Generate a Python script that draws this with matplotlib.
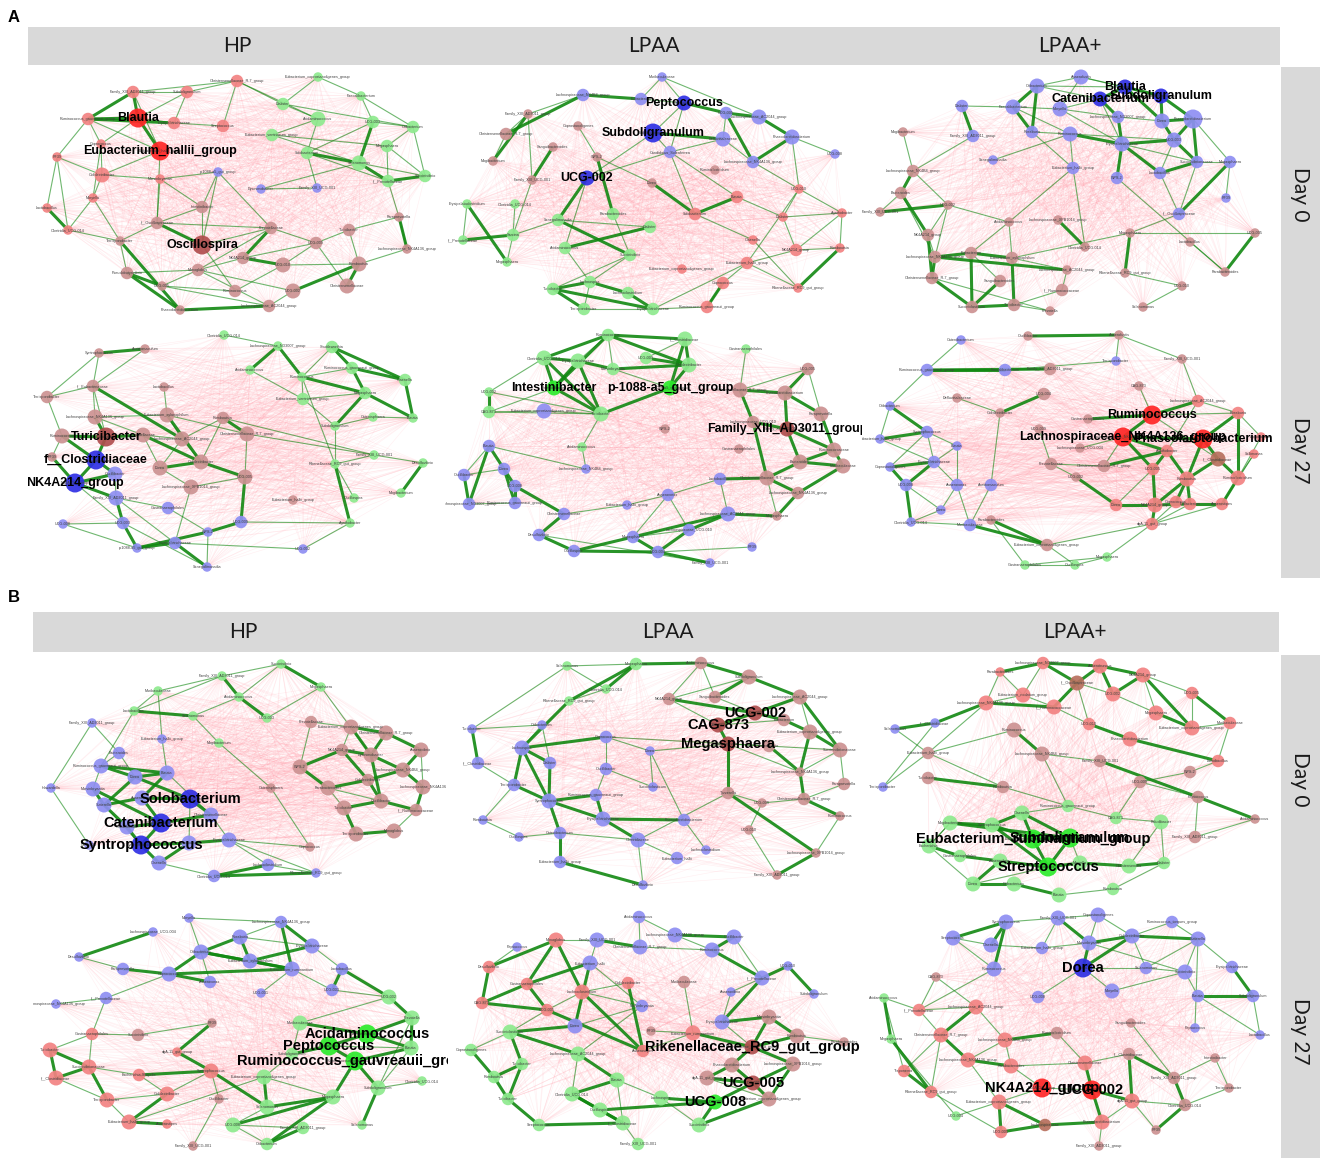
"""Co-occurrence networks (HP / LPAA / LPAA+ at Day 0 and Day 27), panels A and B.

Node layout coordinates are in the reference's pixel frame; every panel axes
uses its own pixel box as data limits so the nodes land in the same place.
Green edges = positive links (listed), pink edges = negative links between
the listed module pairs.
"""
import matplotlib
matplotlib.use("Agg")
import matplotlib.pyplot as plt
from matplotlib.collections import LineCollection

W, H = 1325, 1163

GROUPS = ["HP", "LPAA", "LPAA+"]
DAYS = ["Day 0", "Day 27"]
HEADER_X_A = [237, 654, 1070]
HEADER_X_B = [243, 668, 1075]

# lower case = plain node, upper case = hub node with bold label,
# q = darker (unlabelled) member of the red module
FILL = {"r": "#F28282", "p": "#CC9292", "g": "#8EEA8E", "b": "#8E8EF2", "q": "#B8705E",
        "R": "#FF2626", "P": "#B04E4E", "G": "#2CEB2C", "B": "#2F2FE4"}
MODULE = {"q": "r"}
DIAM = {"s": 9.5, "m": 12.5, "l": 15, "x": 19}
POS_COLOR = "#118811"
NEG_COLOR = "#FF9AA8"
STRIP = "#D9D9D9"

# ---------------- panel A ----------------
A_HP_D0 = [
    ("Christensenellaceae_R-7_group", 237, 81, "rm"), ("Family_XIII_AD3011_group", 133, 92, "rm"),
    ("Subdoligranulum", 187, 92, "rm"), ("Ruminococcus_gauvreauii_group", 88, 119, "rm"),
    ("Blautia", 138, 118, "Rx"), ("Erysipelotrichaceae", 174, 123, "rm"),
    ("Streptococcus", 223, 126, "rm"), ("Coprococcus", 101, 144, "rs"),
    ("Eubacterium_hallii_group", 160, 151, "Rx"), ("RF39", 57, 157, "rs"),
    ("Colidextribacter", 102, 175, "rl"), ("Marvinbryantia", 160, 179, "rs"),
    ("Moryella", 93, 198, "rs"), ("Lactobacillus", 47, 208, "rs"),
    ("Clostridia_UCG-014", 68, 230, "rs"), ("p-1088-a5_gut_group", 218, 172, "bs"),
    ("Dysosmobacter", 261, 189, "bs"), ("Family_XIII_UCG-001", 317, 188, "bs"),
    ("Intestinibacter", 202, 207, "pm"), ("f__Oscillospiraceae", 157, 223, "pm"),
    ("Terrisporobacter", 120, 241, "ps"), ("Oscillospira", 202, 245, "Px"),
    ("Prevotellaceae", 271, 228, "pm"), ("NK4A214_group", 243, 258, "pm"),
    ("Pseudobutyrivibrio", 127, 273, "pm"), ("Monoglobus", 198, 270, "pm"),
    ("UCG-005", 162, 286, "ps"), ("Ruminococcus", 235, 291, "pm"),
    ("UCG-010", 283, 265, "pl"), ("UCG-002", 293, 291, "pl"),
    ("UCG-009", 316, 243, "pm"), ("Turicibacter", 349, 230, "pm"),
    ("Romboutsia", 359, 264, "pl"), ("Christensenellaceae", 347, 286, "pl"),
    ("Lachnospiraceae_NK4A136_group", 407, 249, "ps"), ("Paraprevotella", 399, 217, "ps"),
    ("Phascolarctobacterium", 180, 310, "ps"), ("Lachnospiraceae_AC2044_group", 269, 306, "pm"),
    ("Eubacterium_coprostanoligenes_group", 318, 77, "gs"), ("Faecalibacterium", 361, 96, "gs"),
    ("Dialister", 283, 104, "gm"), ("Acidaminococcus", 318, 119, "gl"),
    ("UCG-003", 373, 122, "gm"), ("Oribacterium", 413, 127, "gm"),
    ("Eubacterium_ventriosum_group", 272, 135, "gm"), ("Solobacterium", 307, 153, "gm"),
    ("Megasphaera", 387, 146, "gm"), ("Selenomonas", 359, 163, "gl"),
    ("f__Prevotellaceae", 388, 181, "gm"), ("Succinivibrio", 425, 176, "gm"),
]
E_A_HP_D0 = ("0-1 0-2 1-2 1-4* 1-3* 3-4* 4-5 4-8* 3-9 3-7 4-7 2-4 2-5 5-6 0-6 3-8 7-10 9-10 9-13 "
             "9-14 10-12 12-14 13-14* 7-12 8-10 1-8 11-19 3-5* 0-40 0-41 38-39 38-40 39-42 40-41 "
             "41-44 41-45 42-43 43-46 44-47 45-47* 45-48 46-49 47-48* 47-49 42-47* 43-49 44-46 40-43 "
             "46-48 48-49* 39-43 42-45 18-19 18-21 19-21* 19-20 21-22 21-27 20-24 22-23* 22-25 23-25 "
             "23-28* 24-25 25-26 26-27 24-36* 25-29 25-37 26-37 27-28 28-32 29-32* 30-31 31-32 32-33* "
             "32-34 34-35 31-35 30-33 22-30 19-22 36-37* 29-37 23-30 28-30 20-36* 24-26* 15-18 15-11 "
             "15-22 16-17 16-47 17-45 15-21 35-48 34-35* 18-11 10-11 8-19 12-20 14-20")
N_A_HP_D0 = "rg rp gp"

A_LPAA_D0 = [
    ("Muribaculaceae", 662, 77, "bs"), ("Lachnospiraceae_NK4B4_group", 583, 95, "bm"),
    ("Eubacterium", 641, 99, "bm"), ("Peptococcus", 684, 103, "Bl"),
    ("UCG-005", 726, 113, "bm"), ("Lachnospiraceae_AC2044_group", 759, 117, "bl"),
    ("Subdoligranulum", 653, 133, "Bx"), ("Defluviitaleaceae", 723, 139, "bl"),
    ("Phascolarctobacterium", 792, 137, "bl"), ("UCG-008", 835, 154, "bs"),
    ("Candidatus_Soleaferrea", 670, 152, "bm"), ("Lachnospiraceae_NK4A136_group", 753, 162, "bm"),
    ("UCG-002", 587, 178, "Bl"), ("Family_XIII_AD3011_group", 528, 114, "ps"),
    ("Coprostanoligenes", 578, 126, "ps"), ("Christensenellaceae_R-7_group", 506, 134, "pm"),
    ("Sanguibacteroides", 553, 147, "ps"), ("WPS-2", 597, 157, "ps"),
    ("Mogibacterium", 493, 161, "ps"), ("Family_XIII_UCG-001", 532, 180, "ps"),
    ("Dorea", 652, 183, "ps"), ("Ruminiclostridium", 715, 170, "ps"),
    ("UCG-010", 799, 189, "rs"), ("Blautia", 737, 197, "rm"),
    ("Solobacterium", 695, 214, "rm"), ("Dialister", 783, 217, "rs"),
    ("Agathobacter", 842, 213, "rs"), ("Olsenella", 753, 240, "rs"),
    ("NK4A214_group", 796, 250, "rm"), ("Romboutsia", 840, 248, "rs"),
    ("Eubacterium_hallii_group", 747, 263, "rm"), ("Eubacterium_coprostanoligenes_group", 682, 269, "rs"),
    ("Coprococcus", 723, 283, "rm"), ("Rikenellaceae_RC9_gut_group", 798, 288, "rs"),
    ("Ruminococcus_gauvreauii_group", 707, 307, "rm"), ("Erysipelatoclostridium", 467, 204, "gs"),
    ("Clostridia_UCG-014", 515, 204, "gs"), ("f__Prevotellaceae", 463, 240, "gs"),
    ("Sarcina", 513, 235, "gm"), ("Megasphaera", 507, 262, "gs"),
    ("Senegalimassilia", 558, 220, "gm"), ("Parabacteroides", 613, 214, "gm"),
    ("Dialister", 650, 227, "gm"), ("Acidaminococcus", 565, 248, "gm"),
    ("Succinivibrio", 630, 255, "gm"), ("Turicibacter", 553, 289, "gm"),
    ("Lachnospira", 590, 282, "gm"), ("Lachnoclostridium", 628, 293, "gm"),
    ("Terrisporobacter", 584, 309, "gm"), ("Erysipelotrichaceae", 653, 309, "gm"),
]
E_A_LPAA_D0 = ("0-3 0-2 1-2* 2-3 3-4* 3-6 4-5* 4-7 4-11* 5-8* 8-9 8-11* 7-10 6-7* 6-10 10-12 10-24 "
               "10-23 8-22 11-22 0-5 1-15* 1-13 7-11 13-15 13-18* 14-17 16-19* 15-18 17-20 17-41* "
               "19-38 12-43 20-24* 13-19 23-24* 22-25 24-27 25-28 26-29 28-29 27-33 28-30 29-33* "
               "30-33 30-32 32-34* 26-28 22-30 25-26 23-25 35-39* 35-37 37-38* 36-38 38-40 40-42 "
               "42-43* 41-44 45-46* 45-48* 46-47* 47-49* 48-49 45-49* 46-48 44-45 44-46 43-46 49-34 "
               "38-39 6-12 3-10 12-40* 40-44* 22-26 34-32 49-30")
N_A_LPAA_D0 = "bg br pr gr pg"

A_LPAAP_D0 = [
    ("Oribacterium", 1037, 86, "bl"), ("Anaerofustis", 1081, 77, "bl"),
    ("Dialister", 962, 106, "bm"), ("Faecalibacterium", 1013, 107, "bl"),
    ("Moryella", 1060, 109, "bl"), ("Blautia", 1125, 87, "Bl"),
    ("Catenibacterium", 1100, 99, "Bl"), ("Subdoligranulum", 1161, 96, "Bl"),
    ("Lachnospiraceae_ND3007_group", 1118, 117, "bm"), ("Dorea", 1162, 121, "bl"),
    ("Phascolarctobacterium", 1193, 119, "bx"), ("Roseburia", 1032, 132, "bm"),
    ("Ruminococcus", 1070, 134, "bl"), ("Erysipelotrichaceae", 1122, 144, "bl"),
    ("UCG-003", 1174, 140, "bl"), ("Family_XIII_AD3011_group", 973, 136, "bm"),
    ("Senegalimassilia", 993, 160, "bs"), ("Eubacterium_hallii_group", 1073, 168, "bm"),
    ("WPS-2", 1117, 178, "bm"), ("Succinivibrionaceae", 1197, 162, "bm"),
    ("Lactobacillus", 1160, 173, "bm"), ("Megasphaera", 1230, 162, "bm"),
    ("RF39", 1226, 198, "bs"), ("f__Oscillospiraceae", 1179, 214, "bm"),
    ("Mogibacterium", 903, 132, "ps"), ("Lachnospiraceae_NK4B4_group", 913, 171, "pm"),
    ("Bacteroides", 901, 193, "pm"), ("UCG-002", 948, 205, "ps"),
    ("Family_XIII_UCG-001", 880, 212, "ps"), ("Acidaminococcus", 1009, 222, "ps"),
    ("Lachnospiraceae_XPB1014_group", 1058, 220, "ps"), ("Clostridia_UCG-014", 1085, 247, "ps"),
    ("NK4A214_group", 928, 235, "pm"), ("Lachnospiraceae_NK4A136_group", 935, 257, "pm"),
    ("Eubacterium", 971, 253, "pm"), ("Eubacterium_xylanophilum", 1012, 258, "pm"),
    ("Christensenellaceae_R-7_group", 932, 278, "pm"), ("Sanguibacteroides", 1000, 281, "pm"),
    ("Lachnospiraceae_AC2044_group", 1067, 270, "ps"), ("f__Ruminococcaceae", 1062, 290, "pm"),
    ("Succiniclasticum", 972, 307, "pm"), ("Turicibacter", 1014, 305, "pm"),
    ("Prevotella", 1050, 311, "ps"), ("Megasphaera", 1130, 233, "ps"),
    ("Lactobacillus", 1190, 242, "ps"), ("UCG-005", 1255, 233, "ps"),
    ("Rikenellaceae_RC9_gut_group", 1125, 273, "ps"), ("Parabacteroides", 1225, 272, "ps"),
    ("UCG-010", 1182, 286, "ps"), ("Selenomonas", 1143, 307, "ps"),
]
E_A_LPAAP_D0 = ("0-1 0-3* 0-5 0-6 1-5 1-7 1-4 2-3 2-15* 3-4 3-11* 4-6 4-8 5-6* 5-7* 5-9* 6-8* 6-13 "
                "7-9* 7-10* 8-9 8-13* 9-10* 9-14* 10-14* 10-19* 11-12 11-17 12-13* 12-17 13-14* 13-18* "
                "13-19 14-19* 14-20 19-20* 19-21 21-22 21-23* 20-23 16-12 15-25 17-31 18-47 0-11* 12-14 "
                "13-20* 3-12 4-13 10-21 19-23 17-29 23-43 24-25 25-26* 25-27 26-28 26-32* 27-28* 27-32 "
                "27-33 29-34 29-35 30-31* 32-33 32-36* 33-34* 33-36* 34-35* 34-37 34-40* 35-41* 36-40* "
                "37-40* 38-39 39-41 40-41* 41-42 36-42 35-38 43-46* 43-45 44-47 45-47* 46-48 48-49 "
                "43-35 33-38* 27-29 26-33")
N_A_LPAAP_D0 = "bp"

A_HP_D27 = [
    ("Syntrophococcus", 99, 353, "ps"), ("Acetitomaculum", 145, 349, "ps"),
    ("Terrisporobacter", 47, 397, "pm"), ("f__Eubacteriaceae", 93, 386, "pm"),
    ("Lactobacillus", 164, 387, "ps"), ("Lachnospiraceae_NK4A136_group", 95, 417, "pl"),
    ("Eubacterium_xylanophilum", 167, 415, "pl"), ("Romboutsia", 223, 418, "pm"),
    ("Ruminococcus", 62, 436, "pl"), ("Turicibacter", 106, 437, "Px"),
    ("Prevotellaceae", 143, 435, "pl"), ("Lachnospiraceae_AC2044_group", 182, 439, "pl"),
    ("Christensenellaceae_R-7_group", 247, 434, "pl"), ("RF39", 52, 457, "ps"),
    ("Colidextribacter", 201, 462, "pl"), ("Dorea", 160, 468, "pl"),
    ("UCG-005", 245, 477, "pl"), ("Lachnospiraceae_XPB1014_group", 191, 487, "pl"),
    ("Eubacterium_hallii_group", 293, 500, "ps"), ("f__Clostridiaceae", 96, 460, "Bx"),
    ("NK4A214_group", 75, 483, "Bx"), ("Oscillibacter", 115, 474, "bl"),
    ("Family_XIII_AD3011_group", 116, 498, "bl"), ("Gastranaerophilales", 168, 508, "bm"),
    ("UCG-008", 63, 524, "bs"), ("UCG-003", 123, 523, "bm"),
    ("UCG-009", 241, 522, "bm"), ("WPS-2", 208, 532, "bs"),
    ("p-1088-a5_gut_group", 137, 548, "bs"), ("Erysipelotrichaceae", 175, 543, "bm"),
    ("Senegalimassilia", 207, 567, "bs"), ("UCG-002", 303, 549, "bs"),
    ("Clostridia_UCG-014", 224, 335, "gs"), ("Lachnospiraceae_ND3007_group", 278, 346, "gs"),
    ("Shuttleworthia", 332, 347, "gm"), ("Acidaminococcus", 250, 370, "gs"),
    ("Ruminococcus", 302, 377, "gs"), ("Ruminococcus_gauvreauii_group", 352, 368, "gm"),
    ("Olsenella", 405, 380, "gm"), ("Eubacterium_ventriosum_group", 303, 399, "gm"),
    ("Megasphaera", 365, 393, "gm"), ("Catenisphaera", 373, 417, "gs"),
    ("Blautia", 413, 418, "gs"), ("Subdoligranulum", 335, 426, "gs"),
    ("Family_XIII_UCG-001", 374, 455, "gs"), ("Rikenellaceae_RC9_gut_group", 335, 464, "gs"),
    ("Desulfovibrio", 423, 463, "gs"), ("Mogibacterium", 401, 493, "gs"),
    ("Oscillospira", 354, 498, "gs"), ("Agathobacter", 350, 523, "gs"),
]
E_A_HP_D27 = ("0-1* 0-2 0-3 1-3 2-3 2-8 3-5 3-9 3-11* 4-6 5-9* 5-10 5-6 6-11 6-12 7-11 7-12* 7-14 "
              "8-9* 8-13 9-10* 10-14* 10-15 11-14 12-16 14-16* 15-17 16-26* 17-29 14-15* 6-14* 11-15 "
              "17-16 10-11 8-19* 9-19* 19-20* 19-21* 20-21* 20-22* 21-22 22-25* 22-23 23-27 24-25 "
              "24-28 25-28* 27-28* 28-29* 29-30* 27-30 29-31 26-27* 25-30 20-25 13-20* 22-29 32-33 "
              "33-35* 33-36* 34-36 34-37* 34-38* 36-37 37-40* 37-38* 38-42* 36-40* 39-40 39-36 "
              "40-42* 41-42 39-43 40-43* 41-43 44-45 45-48 46-47* 46-44 45-49* 43-45 35-39 45-36 "
              "7-44 12-44 49-26 31-49")
N_A_HP_D27 = "pg bg"

A_LPAA_D27 = [
    ("Ruminococcus", 608, 335, "gm"), ("f__Clostridiaceae", 685, 339, "gl"),
    ("Gastranaerophilales", 746, 349, "gs"), ("Clostridia_UCG-014", 544, 358, "gl"),
    ("Erysipelotrichaceae", 578, 361, "gl"), ("UCG-003", 646, 358, "gm"),
    ("Marvinbryantia", 613, 369, "gm"), ("Colidextribacter", 689, 365, "gl"),
    ("Intestinibacter", 554, 388, "Gl"), ("p-1088-a5_gut_group", 670, 388, "Gl"),
    ("UCG-002", 489, 392, "gs"), ("CAG-873", 489, 412, "gm"),
    ("Turicibacter", 601, 414, "gl"), ("Acidaminococcus", 582, 447, "gs"),
    ("Eubacterium_coprostanoligenes_group", 544, 411, "bl"), ("Blautia", 489, 446, "bm"),
    ("Dorea", 504, 469, "bm"), ("Oscillibacter", 464, 475, "bm"),
    ("UCG-008", 515, 486, "bm"), ("Lachnospiraceae_ND3007_group", 469, 504, "bm"),
    ("Ruminococcus_gauvreauii_group", 515, 503, "bm"), ("Lachnospiraceae_NK4B4_group", 586, 469, "bs"),
    ("Christensenellaceae", 564, 514, "bm"), ("Eubacterium_hallii_group", 627, 505, "bs"),
    ("Anaerovorax", 668, 495, "bm"), ("Lachnospiraceae_AC2044_group", 728, 514, "bl"),
    ("Lachnospiraceae_UCG-010", 689, 530, "bm"), ("Megasphaera", 633, 537, "bm"),
    ("Desulfovibrio", 539, 535, "bm"), ("Oscillospira", 574, 551, "bm"),
    ("UCG-004", 658, 552, "bm"), ("RF39", 752, 547, "bs"),
    ("Family_XIII_UCG-001", 710, 563, "bs"), ("Lactobacillus", 720, 479, "bm"),
    ("Christensenellaceae_R-7_group", 740, 390, "pl"), ("Phascolarctobacterium", 785, 393, "pl"),
    ("UCG-005", 808, 369, "pm"), ("Paraprevotella", 821, 414, "pl"),
    ("Lachnospiraceae_UCG-010", 753, 422, "pm"), ("Family_XIII_AD3011_group", 787, 429, "Pl"),
    ("Ruminococcaceae", 834, 450, "pl"), ("Bacteroides", 800, 462, "pl"),
    ("Muribaculaceae", 843, 466, "pl"), ("Christensenellaceae_R-7_group", 767, 478, "pl"),
    ("Lachnospiraceae_NK4A136_group", 798, 493, "pm"), ("Megasphaera", 777, 516, "ps"),
    ("Gastranaerophilales", 739, 449, "ps"), ("WPS-2", 665, 429, "ps"),
]
E_A_LPAA_D27 = ("0-1* 0-3* 0-4 0-7* 0-8* 0-6 1-5 1-7* 1-9* 3-4* 3-8* 3-10 3-12* 4-8* 4-12* 5-7* "
                "6-7* 6-9 7-9* 8-12* 9-12* 10-11* 10-12 11-14 11-12 12-13 2-34 4-6* 8-11 15-16* "
                "15-17 15-19* 16-17 16-18* 16-20* 17-19* 18-20* 19-20 18-22* 14-12 21-15 22-23 "
                "22-28* 23-24 24-27 24-26 25-26* 25-27* 26-27 27-29* 28-29* 29-30* 30-32* 30-31 "
                "26-30* 24-33 33-25 27-30* 32-28 34-35* 35-36* 35-37* 34-38* 37-40* 38-39* 39-40* "
                "39-41* 40-42* 41-42* 41-43* 43-44* 42-44* 44-45* 43-45 38-43* 35-39* 36-37 40-41* "
                "33-43* 45-25* 34-36 13-21")
N_A_LPAA_D27 = "gb gp bp"

A_LPAAP_D27 = [
    ("Catenibacterium", 961, 340, "bs"), ("Ruminococcus_gauvreauii_group", 927, 370, "bm"),
    ("Faecalibacterium", 1005, 370, "bm"), ("Terrisporobacter", 1116, 361, "bs"),
    ("Oribacterium", 890, 406, "bs"), ("Syntrophococcus", 927, 432, "bm"),
    ("Eubacterium_hallii_group", 880, 439, "bs"), ("Erysipelotrichaceae", 934, 462, "bm"),
    ("Coprostanoligenes", 890, 467, "bs"), ("Blautia", 957, 446, "bs"),
    ("UCG-008", 906, 485, "bm"), ("Anaerovorax", 957, 485, "bm"),
    ("Acetitomaculum", 991, 485, "bm"), ("Dorea", 941, 510, "bs"),
    ("Clostridia_UCG-014", 911, 522, "bs"), ("Muribaculaceae", 970, 525, "bm"),
    ("Oscillibacter", 1028, 336, "ps"), ("Anaerofustis", 1119, 335, "ps"),
    ("Family_XIII_UCG-001", 1182, 359, "ps"), ("Family_XIII_AD3011_group", 1050, 369, "pm"),
    ("UCG-004", 1044, 394, "pm"), ("Defluviitaleaceae", 957, 398, "ps"),
    ("Colidextribacter", 1000, 413, "ps"), ("UCG-009", 1039, 429, "ps"),
    ("CAG-873", 1139, 386, "ps"), ("Gastranaerophilales", 1088, 419, "ps"),
    ("Prevotellaceae", 1051, 464, "pm"), ("Christensenellaceae_R-7_group", 1104, 466, "pm"),
    ("UCG-002", 1076, 477, "ps"), ("Parabacteroides", 991, 520, "ps"),
    ("Eubacterium_coprostanoligenes_group", 1047, 545, "pm"), ("Lachnospiraceae_UCG-004", 1080, 448, "ps"),
    ("Ruminococcus", 1152, 415, "Rx"), ("Lachnospiraceae_NK4A136_group", 1123, 437, "Rx"),
    ("Phascolarctobacterium", 1203, 439, "Rx"), ("Lachnospiraceae_AC2044_group", 1198, 401, "rm"),
    ("Roseburia", 1238, 413, "rm"), ("Lactobacillus", 1261, 437, "rs"),
    ("Agathobacter", 1167, 451, "rm"), ("f__Clostridiaceae", 1218, 459, "ql"),
    ("UCG-005", 1153, 469, "rm"), ("Romboutsia", 1187, 479, "rl"),
    ("Ruminiclostridium", 1238, 478, "rl"), ("Dorea", 1116, 505, "rm"),
    ("NK4A214_group", 1155, 505, "rl"), ("Eubacterium", 1190, 504, "rm"),
    ("Anaerostipes", 1222, 504, "rm"), ("Coprococcus", 1176, 502, "rm"),
    ("dgA-11_gut_group", 1152, 524, "rm"), ("Sellimonas", 1254, 454, "rs"),
    ("Megasphaera", 1107, 557, "gs"), ("Gastranaerophilales", 1025, 565, "gs"),
    ("Oscillospira", 1075, 565, "gs"),
]
E_A_LPAAP_D27 = ("1-2* 1-4 4-5* 4-6 5-6* 5-7 6-7 7-8* 7-10* 8-10* 10-14* 7-11 11-13 11-15 13-14 "
                 "15-14 9-11 5-9 10-13 12-15 9-7 5-8 0-1 2-3 16-17* 19-1* 20-22* 21-22 23-26 28-26 "
                 "29-30* 15-30* 17-18 18-35 24-32 25-32* 26-27 27-33 32-33* 32-35* 32-36 33-34* "
                 "33-38* 34-36* 34-39* 35-36 36-37 36-42* 37-42 38-40* 38-41* 39-41* 39-42* 40-44* "
                 "41-44* 41-45* 42-46* 43-44* 44-45* 45-46* 44-48* 45-48 46-48 47-48 40-43 41-47* "
                 "42-49 34-41* 33-40* 32-39 35-38 49-46 27-38* 28-43* 30-48 50-51 50-52 51-52 50-48 "
                 "52-30 51-29 3-17 2-19 22-12 31-33")
N_A_LPAAP_D27 = "br pr bp"

# ---------------- panel B ----------------
B_HP_D0 = [
    ("Succinivibrio", 281, 664, "gs"), ("Family_XIII_AD3011_group", 222, 676, "gs"),
    ("Muribaculaceae", 158, 691, "gs"), ("Acidaminococcus", 239, 697, "gs"),
    ("Megasphaera", 321, 687, "gs"), ("Lactobacillus", 134, 711, "gs"),
    ("Selenomonas", 193, 716, "gs"), ("UCG-003", 267, 718, "gs"),
    ("Mogibacterium", 219, 743, "gs"), ("Family_XIII_AD3011_group", 92, 723, "bs"),
    ("Eubacterium_hallii_group", 162, 739, "bs"), ("Bacteroides", 119, 753, "bm"),
    ("Ruminococcus_gauvreauii_group", 101, 766, "bl"), ("Dorea", 135, 777, "bl"),
    ("Blautia", 167, 773, "bl"), ("Howardella", 51, 788, "bs"),
    ("Marvinbryantia", 93, 789, "bl"), ("Sutterella", 104, 805, "bl"),
    ("Anaerostipes", 142, 798, "bl"), ("Solobacterium", 190, 799, "Bx"),
    ("Christensenellaceae", 211, 815, "bl"), ("Catenibacterium", 161, 823, "Bx"),
    ("Oribacterium", 127, 827, "bl"), ("Syntrophococcus", 141, 845, "Bx"),
    ("Romboutsia", 189, 843, "bl"), ("Olsenella", 159, 863, "bl"),
    ("Erysipelotrichaceae", 229, 840, "bl"), ("UCG-005", 89, 845, "bs"),
    ("Clostridia_UCG-014", 214, 876, "bm"), ("Lachnoclostridium", 268, 865, "bm"),
    ("Rikenellaceae_RC9_gut_group", 316, 873, "bs"), ("Prevotellaceae", 311, 722, "pm"),
    ("Eubacterium_coprostanoligenes_group", 351, 727, "pl"), ("Christensenellaceae_R-7_group", 386, 733, "pl"),
    ("WPS-2", 300, 767, "pl"), ("NK4A214_group", 342, 750, "pm"),
    ("Dysosmobacter", 371, 755, "pl"), ("Anaerovibrio", 421, 750, "pl"),
    ("Lachnospiraceae_NK4B4_group", 403, 770, "pl"), ("Colidextribacter", 368, 780, "pm"),
    ("Parabacteroides", 328, 788, "pl"), ("Lachnospiraceae_NK4A136", 423, 787, "pl"),
    ("Catenisphaera", 271, 788, "ps"), ("Turicibacter", 344, 808, "pl"),
    ("Oscillibacter", 381, 801, "pl"), ("f__Ruminococcaceae", 416, 810, "pm"),
    ("Terrisporobacter", 356, 834, "pl"), ("Monoglobus", 394, 831, "pl"),
    ("Coprococcus", 310, 847, "ps"),
]
E_B_HP_D0 = ("0-3 0-4* 1-3* 1-2 2-5 3-7* 3-6 5-6* 1-5 4-7 6-8 2-10 5-12 0-1 4-36 9-11 9-15 11-12 "
             "11-13 12-13* 12-14* 13-14* 12-16 13-17* 14-18* 16-17* 17-18* 17-22* 18-19* 18-21* "
             "19-20* 20-21* 21-22* 21-23* 22-23* 23-24* 24-26* 24-25* 25-28 28-29* 29-30 26-29 "
             "23-25* 16-21* 13-19* 14-20 15-27 10-14 20-26 17-23 19-24 28-30* 26-30 31-32 31-34 "
             "32-33* 32-35 33-36* 33-37* 34-35* 34-40* 35-36* 36-38* 37-38* 38-41* 39-40* 39-44* "
             "40-43 41-45* 43-44* 44-45* 43-46* 46-47* 45-47 38-39* 35-39* 36-44* 37-41 42-48 "
             "32-36* 40-44 8-42 26-48")
N_B_HP_D0 = "bp gp gb"

B_LPAA_D0 = [
    ("Selenomonas", 567, 666, "gs"), ("Megasphaera", 636, 664, "gm"),
    ("Clostridia_UCG-014", 606, 689, "gs"), ("Rikenellaceae_RC9_gut_group", 569, 701, "gs"),
    ("Acidaminococcus", 701, 663, "pm"), ("Subdoligranulum", 749, 677, "pl"),
    ("NK4A214_group", 669, 699, "pm"), ("Sanguibacteroides", 715, 697, "pm"),
    ("Lachnospiraceae_AC2044_group", 800, 697, "pl"), ("UCG-002", 755, 713, "Pl"),
    ("CAG-873", 718, 725, "Pl"), ("Megasphaera", 728, 744, "Pl"),
    ("Eubacterium", 784, 720, "pm"), ("Eubacterium_coprostanoligenes_group", 810, 732, "pl"),
    ("Succinivibrionaceae", 840, 750, "pl"), ("Anaerovibrio", 769, 746, "pm"),
    ("Lachnospiraceae_NK4A136_group", 800, 772, "ps"), ("Paraprevotella", 844, 784, "pm"),
    ("Tyzzerella", 728, 793, "pm"), ("UCG-009", 762, 803, "ps"),
    ("Christensenellaceae_R-7_group", 804, 799, "pm"), ("Ruminococcus", 840, 816, "ps"),
    ("UCG-010", 749, 830, "ps"), ("Lachnospiraceae_XPB1014_group", 816, 853, "ps"),
    ("Family_XIII_AD3011_group", 777, 875, "ps"), ("Turicibacter", 472, 729, "bs"),
    ("Oribacterium", 542, 725, "bs"), ("Coprococcus", 606, 737, "bm"),
    ("Lachnospira", 522, 748, "bl"), ("Dorea", 650, 751, "bs"),
    ("f__Clostridiaceae", 478, 763, "bm"), ("Dialister", 550, 763, "bm"),
    ("Oscillibacter", 606, 769, "bm"), ("Terrisporobacter", 514, 785, "bm"),
    ("Succiniclasticum", 653, 787, "bs"), ("Syntrophococcus", 549, 801, "bl"),
    ("Ruminococcus_gauvreauii_group", 596, 795, "bm"), ("Romboutsia", 483, 820, "bs"),
    ("Erysipelotrichaceae", 603, 819, "bl"), ("Phascolarctobacterium", 684, 820, "bm"),
    ("Oscillospira", 519, 837, "bs"), ("Catenibacterium", 560, 833, "bm"),
    ("Clostridiaceae", 638, 840, "bl"), ("Lachnoclostridium", 706, 850, "bs"),
    ("Eubacterium_hallii_group", 560, 862, "bm"), ("Eubacterium_hallii", 677, 858, "bm"),
    ("Desulfovibrio", 643, 885, "bs"),
]
E_B_LPAA_D0 = ("0-1 0-2 1-2* 1-3* 2-3 1-4* 0-25 4-5* 4-6 4-7 5-7* 5-8* 5-6 6-9* 7-9 8-9* 8-13 9-10* "
               "9-12* 10-11* 10-12 11-15 11-18* 12-13* 13-14* 14-17 15-16* 16-20* 17-20 18-19 19-20 "
               "20-21* 18-23* 21-23 22-24 23-24* 11-16 6-10 13-16* 8-14* 14-16 19-22 25-26 25-30* "
               "26-28 26-31 27-28* 27-32 28-31* 28-33* 28-35* 29-34 30-33 31-35* 32-36 33-35* 35-36* "
               "35-38* 36-38* 38-39* 38-42* 37-40 40-41 41-44* 41-42 42-45 42-46 44-46* 39-43 33-37 "
               "27-29 29-39 32-34 27-14 3-28* 35-41* 29-11 18-42")
N_B_LPAA_D0 = "pb gb"

B_LPAAP_D0 = [
    ("Parabacteroides", 1000, 672, "rs"), ("Lachnospiraceae_ND3007_group", 1043, 663, "rm"),
    ("Anaerotruncus", 1100, 666, "rl"), ("NK4A214_group", 1143, 675, "rl"),
    ("f__Oscillospiraceae", 1077, 683, "ql"), ("Eubacterium_nodatum_group", 1023, 695, "rl"),
    ("Lachnospiraceae_NK4A136_group", 986, 703, "rl"), ("f__Ruminococcaceae", 1054, 707, "rl"),
    ("UCG-002", 1113, 694, "rl"), ("UCG-005", 1192, 693, "rm"),
    ("Megasphaera", 1156, 713, "rl"), ("UCG-010", 1089, 724, "rm"),
    ("Eubacterium_coprostanoligenes_group", 1192, 728, "rl"), ("Muribaculaceae", 1230, 723, "rm"),
    ("Phascolarctobacterium", 1130, 739, "rl"), ("Lactobacillus", 1218, 761, "rm"),
    ("Ruminococcus", 1014, 730, "pl"), ("Eubacterium_hallii_group", 928, 753, "pm"),
    ("Lachnospiraceae_NK4B4_group", 1042, 754, "pl"), ("Family_XIII_UCG-001", 1100, 761, "pm"),
    ("WPS-2", 1190, 772, "pm"), ("Turicibacter", 928, 778, "pm"),
    ("Romboutsia", 1003, 787, "pm"), ("UCG-009", 1140, 782, "pm"),
    ("Peptococcus", 1198, 797, "pm"), ("Family_XIII_AD3011_group", 1195, 837, "pm"),
    ("Acidaminococcus", 1255, 819, "ps"), ("Selenomonas", 895, 729, "bs"),
    ("f__Clostridiaceae", 935, 723, "bs"), ("Terrisporobacter", 883, 787, "bs"),
    ("Ruminococcus_gauvreauii_group", 1068, 806, "gm"), ("Mogibacterium", 950, 823, "gl"),
    ("Syntrophococcus", 992, 825, "gl"), ("Olsenella", 1022, 813, "gl"),
    ("CAG-873", 1116, 818, "gm"), ("Paludibacter", 1161, 822, "gl"),
    ("Escherichia", 929, 846, "gl"), ("Eubacterium_ruminantium_group", 1033, 839, "Gx"),
    ("Subdoligranulum", 1070, 838, "Gx"), ("Streptococcus", 1048, 867, "Gx"),
    ("Gastranaerophilales", 960, 856, "gm"), ("Anaerovibrio", 1000, 861, "gl"),
    ("Moryella", 1080, 863, "gl"), ("Christensenella", 1129, 866, "gl"),
    ("Dialister", 1164, 863, "gm"), ("Dorea", 973, 884, "gl"),
    ("Oribacterium", 1014, 884, "gl"), ("Blautia", 1059, 895, "gl"),
    ("Romboutsia", 1113, 889, "gm"),
]
E_B_LPAAP_D0 = ("0-1* 0-5 0-6 1-2* 1-4* 1-5 2-3* 2-4* 2-8* 3-8* 3-10 3-12* 4-7* 4-8 5-7 6-7* 6-5 "
                "8-10 9-12 9-13* 10-12* 12-13 11-14* 14-15* 7-11 6-28* 16-18* 18-19 19-24* 13-15 "
                "4-11 3-9 17-6 17-22 21-22* 16-17 20-23 23-24 24-25 25-26 24-26* 20-15 22-30 17-29 "
                "27-28* 28-29 27-17 30-33 30-34 31-32* 31-36 32-33* 32-37* 33-37* 33-38* 34-35 35-43 "
                "36-40* 36-31 37-38* 37-39* 38-39* 39-42* 40-41* 41-45* 45-46* 46-47* 47-48 42-43* "
                "43-44* 44-48 39-45 38-42 31-38* 36-45 35-44 30-18 34-23 32-39* 41-39*")
N_B_LPAAP_D0 = "rg pg"

B_HP_D27 = [
    ("Moryella", 189, 918, "bs"), ("Lachnospiraceae_UCG-004", 153, 932, "bs"),
    ("Lachnospiraceae_NK4A136_group", 281, 922, "bm"), ("Roseburia", 240, 937, "bl"),
    ("Oribacterium", 201, 952, "bl"), ("Eubacterium_xylanophilum", 250, 961, "bl"),
    ("Erysipelotrichaceae", 312, 946, "bl"), ("Eubacterium_ruminantium", 292, 969, "bl"),
    ("Paraprevotella", 123, 969, "bm"), ("Coprococcus", 169, 974, "bl"),
    ("Anaerovorax", 210, 982, "bm"), ("Lactobacillus", 342, 969, "bm"),
    ("f__Prevotellaceae", 106, 998, "bm"), ("UCG-001", 261, 993, "bs"),
    ("UCG-003", 332, 990, "bm"), ("Lachnospiraceae_NK4A136_group", 56, 1004, "bs"),
    ("Desulfovibrio", 79, 957, "bs"), ("Gastranaerophilales", 92, 1034, "rm"),
    ("Succinivibrio", 138, 1035, "pm"), ("RF39", 212, 1023, "ps"),
    ("Turicibacter", 50, 1050, "rl"), ("Succinivibrionaceae", 89, 1067, "rl"),
    ("dgA-11_gut_group", 177, 1052, "rs"), ("f__Clostridiaceae", 56, 1078, "rl"),
    ("Escherichia-Shigella", 139, 1075, "rm"), ("Syntrophococcus", 211, 1071, "rl"),
    ("Colidextribacter", 167, 1094, "rl"), ("Terrisporobacter", 107, 1100, "rl"),
    ("Oscillibacter", 219, 1099, "ps"), ("Eubacterium_hallii_group", 129, 1122, "rl"),
    ("Anaerostipes", 167, 1124, "rs"), ("Family_XIII_UCG-001", 193, 1146, "ps"),
    ("UCG-002", 389, 997, "gl"), ("Muribaculaceae", 300, 1023, "gl"),
    ("Prevotella", 412, 1018, "gl"), ("Acidaminococcus", 367, 1034, "Gx"),
    ("Peptococcus", 329, 1046, "Gx"), ("Blautia", 411, 1048, "gl"),
    ("Ruminococcus_gauvreauii_group", 355, 1061, "Gx"), ("Subdoligranulum", 292, 1054, "gm"),
    ("Eubacterium_coprostanoligenes_group", 264, 1077, "gl"), ("Subdoligranulum", 378, 1088, "gl"),
    ("Clostridia_UCG-014", 422, 1081, "gs"), ("Megasphaera", 333, 1097, "gl"),
    ("Selenomonas", 267, 1107, "gl"), ("UCG-008", 233, 1125, "gl"),
    ("Family_XIII_AD3011_group", 303, 1128, "gm"), ("Oribacterium", 267, 1144, "gm"),
    ("Selenomonas", 362, 1125, "gs"),
]
E_B_HP_D27 = ("0-4 1-16* 2-3 2-6* 2-7* 3-4* 3-5* 3-6 4-5* 4-7* 4-9* 5-7* 5-6* 6-11 7-9* 7-14 8-9* "
              "9-10* 9-12 10-4 11-14* 12-17 12-15 13-7 8-16 14-32 11-32* 0-2 17-20 17-18 20-21* "
              "20-23* 21-23* 21-24 21-27* 22-25* 23-27 24-25* 24-26 25-26 26-27 26-29* 27-29 29-30* "
              "25-28 19-22* 18-19 17-21 28-31 32-34* 32-33 33-35* 34-35* 34-37* 35-36* 35-37* 36-38* "
              "37-38* 37-41 36-39* 38-41* 38-43* 39-40 40-43 41-42 41-48* 43-44* 43-45* 44-45 45-46 "
              "46-47* 45-47 43-47* 33-39 34-41 40-44* 36-37 40-29 25-44*")
N_B_HP_D27 = "bg rg bp"

B_LPAA_D27 = [
    ("Acidaminococcus", 639, 917, "bm"), ("Lachnospiraceae_NK4A136_group", 675, 935, "bl"),
    ("Oscillibacter", 734, 937, "bl"), ("Family_XIII_UCG-001", 597, 940, "bl"),
    ("Christensenellaceae_R-7_group", 640, 947, "bl"), ("Peptococcus", 517, 947, "bs"),
    ("Ruminococcus", 712, 950, "bl"), ("Eubacterium_hallii", 590, 963, "bl"),
    ("UCG-010", 788, 966, "bs"), ("f__Prevotellaceae", 762, 978, "bl"),
    ("Subdoligranulum", 814, 994, "bs"), ("Anaerovibrio", 731, 992, "bs"),
    ("Marvinbryantia", 642, 1006, "bm"), ("Erysipelotrichaceae", 722, 1022, "bl"),
    ("Dorea", 575, 1026, "bl"), ("Monoglobus", 556, 940, "rl"),
    ("Desulfovibrio", 489, 967, "rm"), ("Gastranaerophilales", 527, 984, "rm"),
    ("Lachnoclostridium", 582, 992, "rl"), ("Colidextribacter", 628, 983, "rm"),
    ("Muribaculaceae", 684, 982, "pm"), ("CAG-873", 482, 1003, "rm"),
    ("UCG-005", 547, 1010, "rm"), ("RF39", 651, 1031, "ps"),
    ("Eubacterium_ruminantium", 693, 1033, "rl"), ("Anaerostipes", 643, 1051, "rm"),
    ("Marvinbryantia", 769, 1017, "pl"), ("Romboutsia", 797, 1036, "pl"),
    ("Rikenellaceae_RC9_gut_group", 752, 1047, "Pl"), ("Phascolarctobacterium", 732, 1065, "pl"),
    ("Lachnospiraceae_XPB1014_group", 793, 1064, "pl"), ("dgA-11_gut_group", 707, 1078, "pl"),
    ("UCG-005", 753, 1083, "Pl"), ("Eubacterium_coprostanoligenes_group", 769, 1099, "pl"),
    ("Parabacteroides", 844, 1042, "ps"), ("Succiniclasticum", 510, 1032, "gl"),
    ("Coprostanoligenes", 471, 1050, "gm"), ("Lachnospiraceae_AC2044_group", 578, 1054, "gl"),
    ("Turicibacter", 522, 1064, "gm"), ("Romboutsia", 494, 1077, "gm"),
    ("Blautia", 617, 1080, "gl"), ("Clostridia_UCG-014", 572, 1094, "gl"),
    ("Lachnospira", 661, 1098, "gl"), ("Turicibacter", 508, 1099, "gm"),
    ("Oscillospira", 600, 1110, "gl"), ("f__Clostridiaceae", 623, 1123, "gl"),
    ("UCG-008", 715, 1102, "Gl"), ("Streptococcus", 539, 1125, "gm"),
    ("Succinivibrio", 699, 1125, "gl"), ("Family_XIII_UCG-001", 638, 1144, "gm"),
]
E_B_LPAA_D27 = ("0-1 0-4 1-2* 1-6 2-6* 2-9 3-4* 3-7 4-6 6-9* 7-12 7-14* 8-9* 8-10* 9-11 9-13* 11-13 "
                "12-14 13-28 12-18 3-15 5-16 15-16* 15-17* 15-18* 16-21* 17-21* 17-22* 18-19 18-22 "
                "18-14 21-22* 22-25* 19-25* 18-25* 7-17* 24-25 23-24 20-24 26-27* 26-28* 27-28* 27-34 "
                "28-29* 28-30* 29-31* 29-32* 30-32* 31-32* 32-33* 31-33 30-33* 26-13* 28-24* 35-36 "
                "35-38* 35-37* 36-39* 37-40* 37-41 38-39* 38-43* 39-43* 40-41* 40-42 41-44* 41-45* "
                "43-47* 44-45* 45-47* 45-49 42-48 46-48* 42-46* 44-46* 46-32* 33-48* 40-45 14-35* "
                "12-37 22-35")
N_B_LPAA_D27 = "bg rp rg bp"

B_LPAAP_D27 = [
    ("Syntrophococcus", 1006, 922, "bl"), ("Family_XIII_UCG-001", 1058, 918, "bl"),
    ("Coprostanoligenes", 1098, 915, "bl"), ("Streptococcus", 953, 938, "bl"),
    ("Olsenella", 991, 945, "bl"), ("Eubacterium_hallii_group", 1042, 948, "bm"),
    ("Marvinbryantia", 1089, 943, "bl"), ("Colidextribacter", 1132, 936, "bl"),
    ("Ruminococcus_torques_group", 1172, 922, "bm"), ("Sutterella", 1198, 939, "bl"),
    ("Ruminococcus", 994, 969, "bl"), ("Dorea", 1083, 968, "Bx"),
    ("Selenomonas", 1146, 968, "bm"), ("Succinivibrio", 1185, 972, "bl"),
    ("Erysipelotrichaceae", 1232, 967, "bm"), ("UCG-008", 1038, 997, "bm"),
    ("Moryella", 1112, 991, "bl"), ("Blautia", 1198, 996, "bm"),
    ("Subdoligranulum", 1253, 996, "bm"), ("Peptococcus", 1195, 1028, "bs"),
    ("Lactobacillus", 1260, 1035, "bs"), ("Acidaminococcus", 884, 998, "gs"),
    ("Megasphaera", 891, 1039, "gs"), ("UCG-004", 956, 1116, "gs"),
    ("f__Prevotellaceae", 919, 1010, "rm"), ("Lachnospiraceae_AC2044_group", 976, 1007, "rl"),
    ("Christensenellaceae_R-7_group", 941, 1035, "rl"), ("Lachnospiraceae_NK4B4_group", 1005, 1040, "rl"),
    ("Treponema", 904, 1071, "rm"), ("Lachnospiraceae_NK4A136_group", 968, 1060, "rl"),
    ("Parabacteroides", 1011, 1066, "rl"), ("Christensenellaceae", 1085, 1063, "rl"),
    ("Rikenellaceae_RC9_gut_group", 931, 1092, "rm"), ("NK4A214_group", 1042, 1088, "Rx"),
    ("UCG-002", 1092, 1090, "Rx"), ("Eubacterium_coprostanoligenes_group", 999, 1102, "rl"),
    ("dgA-11_gut_group", 1132, 1101, "rl"), ("Lachnospiraceae", 1045, 1125, "qm"),
    ("Phascolarctobacterium", 1102, 1122, "rl"), ("UCG-005", 1001, 1132, "rm"),
    ("CAG-873", 936, 977, "ps"), ("Ruminiclostridium", 1057, 1033, "pm"),
    ("Sanguibacteroides", 1131, 1023, "ps"), ("f__Clostridiaceae", 1129, 1054, "pm"),
    ("Intestinibacter", 1215, 1058, "ps"), ("Family_XIII_AD3011_group", 1174, 1078, "pm"),
    ("Terrisporobacter", 1229, 1088, "ps"), ("Clostridia_UCG-014", 1185, 1105, "pm"),
    ("RF39", 1156, 1130, "ps"), ("Family_XIII_AD3011_group", 1099, 1146, "ps"),
]
E_B_LPAAP_D27 = ("0-3* 0-4* 0-1 0-10* 1-2 1-5 1-6* 2-7 2-6 3-4 3-10 4-5 5-6 6-7* 6-11* 7-8 7-9* 8-9 "
                 "7-12 9-13 9-14 11-15 11-16 12-13 13-17 14-18* 17-18* 13-16 9-19 17-20 18-20 11-12 "
                 "10-24 7-11* 9-12 6-13 24-25 24-26 25-26* 25-27 26-29* 26-32 27-29 27-30 28-32* "
                 "29-30* 29-35 30-33 31-34* 33-35 33-34 34-36* 34-38* 35-37* 37-38* 35-39* 36-38 38-49 "
                 "32-39 30-31 27-41* 26-28 31-43 39-37* 21-22* 21-28 22-32* 22-23 21-24 23-35 41-31 "
                 "42-45 43-45* 44-46 44-45 45-47* 46-47 47-48* 43-36* 47-36 36-48 40-25 40-24")
N_B_LPAAP_D27 = "br bp"

# panel boxes (pixel frame of the reference)
COLS_A = [28, 445, 862, 1280]
ROWS_A = [67, 322, 578]
COLS_B = [33, 448, 863, 1279]
ROWS_B = [654, 905, 1158]


def box_axes(fig, x0, y0, x1, y1):
    ax = fig.add_axes([x0 / W, 1 - y1 / H, (x1 - x0) / W, (y1 - y0) / H])
    ax.set_xlim(x0, x1)
    ax.set_ylim(y1, y0)
    return ax


def strip(fig, x0, y0, x1, y1):
    ax = box_axes(fig, x0, y0, x1, y1)
    ax.set_facecolor(STRIP)
    ax.set_xticks([])
    ax.set_yticks([])
    for s in ax.spines.values():
        s.set_visible(False)
    return ax


def draw_network(ax, nodes, edges, neg, bold_family, bold_size):
    xs = [n[1] for n in nodes]
    ys = [n[2] for n in nodes]
    comm = [MODULE.get(n[3][0], n[3][0].lower()) for n in nodes]

    # negative links between the listed modules
    pairs = [set(p) for p in neg.split()]
    segs = []
    for i in range(len(nodes)):
        for j in range(i + 1, len(nodes)):
            if {comm[i], comm[j]} in pairs:
                segs.append([(xs[i], ys[i]), (xs[j], ys[j])])
    ax.add_collection(LineCollection(segs, colors=NEG_COLOR, linewidths=0.45,
                                     alpha=0.15, zorder=1))

    # positive links
    thin, thick = [], []
    for tok in edges.split():
        a, b = tok.rstrip("*").split("-")
        seg = [(xs[int(a)], ys[int(a)]), (xs[int(b)], ys[int(b)])]
        (thick if tok.endswith("*") else thin).append(seg)
    ax.add_collection(LineCollection(thin, colors=POS_COLOR, linewidths=0.8,
                                     alpha=0.6, zorder=2))
    ax.add_collection(LineCollection(thick, colors=POS_COLOR, linewidths=2.2,
                                     alpha=0.9, zorder=2))

    sizes = [(DIAM[n[3][1]] * 0.72) ** 2 for n in nodes]
    cols = [FILL[n[3][0]] for n in nodes]
    ax.scatter(xs, ys, s=sizes, c=cols, alpha=0.92, linewidths=0, zorder=3)

    for label, x, y, code in nodes:
        ax.text(x, y, label, fontsize=2.7, ha="center", va="center", color="#404040",
                family=["Liberation Sans", "DejaVu Sans"], clip_on=True, zorder=4)
    for label, x, y, code in nodes:
        if code[0].isupper():
            ax.text(x, y, label, fontsize=bold_size, fontweight="bold", ha="center",
                    va="center", color="black", family=bold_family, clip_on=True, zorder=6)
    ax.axis("off")


def main():
    fig = plt.figure(figsize=(W / 100, H / 100), dpi=100)
    head_font = ["Lato", "DejaVu Sans"]

    panels = [
        ("A", (14, 17), COLS_A, ROWS_A, (27, 65), HEADER_X_A,
         [[(A_HP_D0, E_A_HP_D0, N_A_HP_D0), (A_LPAA_D0, E_A_LPAA_D0, N_A_LPAA_D0),
           (A_LPAAP_D0, E_A_LPAAP_D0, N_A_LPAAP_D0)],
          [(A_HP_D27, E_A_HP_D27, N_A_HP_D27), (A_LPAA_D27, E_A_LPAA_D27, N_A_LPAA_D27),
           (A_LPAAP_D27, E_A_LPAAP_D27, N_A_LPAAP_D27)]],
         ["Liberation Sans", "DejaVu Sans"], 9),
        ("B", (14, 598), COLS_B, ROWS_B, (612, 652), HEADER_X_B,
         [[(B_HP_D0, E_B_HP_D0, N_B_HP_D0), (B_LPAA_D0, E_B_LPAA_D0, N_B_LPAA_D0),
           (B_LPAAP_D0, E_B_LPAAP_D0, N_B_LPAAP_D0)],
          [(B_HP_D27, E_B_HP_D27, N_B_HP_D27), (B_LPAA_D27, E_B_LPAA_D27, N_B_LPAA_D27),
           (B_LPAAP_D27, E_B_LPAAP_D27, N_B_LPAAP_D27)]],
         ["Liberation Sans Narrow", "Liberation Sans", "DejaVu Sans"], 10.5),
    ]

    for tag, (tx, ty), cols, rows, (hy0, hy1), hx, grid, bfam, bsize in panels:
        fig.text(tx / W, 1 - ty / H, tag, fontsize=12, fontweight="bold",
                 family=["Liberation Sans", "DejaVu Sans"], ha="center", va="center")
        hax = strip(fig, cols[0], hy0, cols[3], hy1)
        for g, x in zip(GROUPS, hx):
            hax.text(x, (hy0 + hy1) / 2, g, fontsize=15, family=head_font,
                     ha="center", va="center", color="#1a1a1a")
        rax = strip(fig, 1281, rows[0] + (1 if tag == "B" else 0), 1320, rows[2])
        for d, (r0, r1) in zip(DAYS, zip(rows[:-1], rows[1:])):
            rax.text(1300.5, (r0 + r1) / 2, d, fontsize=15, family=head_font, rotation=-90,
                     ha="center", va="center", color="#1a1a1a")
        for ri in range(2):
            for ci in range(3):
                nodes, edges, neg = grid[ri][ci]
                ax = box_axes(fig, cols[ci], rows[ri], cols[ci + 1], rows[ri + 1])
                draw_network(ax, nodes, edges, neg, bfam, bsize)

    fig.savefig("out.png", dpi=100)
    plt.close(fig)


if __name__ == "__main__":
    main()
